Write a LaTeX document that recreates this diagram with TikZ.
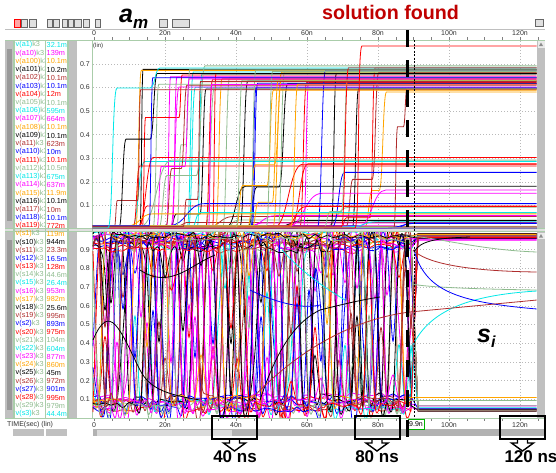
\documentclass[tikz,border=0pt]{standalone}
\usepackage{fontspec}
\setmainfont{Liberation Sans}
\usetikzlibrary{calc}
\definecolor{w0}{RGB}{0,232,232}
\definecolor{w1}{RGB}{255,0,255}
\definecolor{w2}{RGB}{255,165,0}
\definecolor{w3}{RGB}{0,0,0}
\definecolor{w4}{RGB}{175,45,45}
\definecolor{w5}{RGB}{0,0,255}
\definecolor{w6}{RGB}{255,0,0}
\definecolor{w7}{RGB}{143,188,143}
\definecolor{solred}{RGB}{192,0,0}
\definecolor{axgreen}{RGB}{170,205,170}
\definecolor{sbgray}{RGB}{192,192,192}
\definecolor{gridgray}{RGB}{185,185,185}
\tikzset{
  tick/.style={font=\fontsize{7}{8}\selectfont, text=black!80, inner sep=0pt},
  legname/.style={font=\fontsize{7.3}{8}\selectfont, anchor=west, inner sep=0pt},
  legval/.style={font=\fontsize{7.3}{8}\selectfont, anchor=west, inner sep=0pt},
  wave/.style={line width=0.8pt},
  gridline/.style={gridgray, dash pattern=on 1pt off 2pt, line width=0.5pt},
  nsbox/.style={draw=black, line width=2pt, minimum width=45pt, minimum height=23pt, inner sep=0pt},
  nslabel/.style={font=\fontsize{17}{17}\selectfont\bfseries, inner sep=0pt},
  blockarrow/.style={draw=black, fill=white, line width=1.4pt, line join=miter},
  icon/.style={draw=black!60, fill=black!12, line width=0.5pt},
}
\begin{document}
\begin{tikzpicture}[x=1pt,y=-1pt]
\useasboundingbox[fill=white] (0,0) rectangle (556,472);
\pgfmathsetseed{11}
% ---------- toolbar ----------
\foreach \a/\b in {21/27,29/36,47/52,53/59,62/67,68/73,74/81,83/89,95/100,159/167,172/189}
  \draw[icon] (\a,19) rectangle (\b,27);
\draw[icon, draw=red, fill=red!35] (14,19) rectangle (20.5,27);
\draw[icon] (535,19) rectangle (543,26);
\draw[black!25, line width=0.6pt] (5,29) -- (545,29);
% ---------- titles ----------
\node[anchor=base west, inner sep=0pt] (am) at (119,22)
  {\fontsize{25}{25}\selectfont\bfseries\itshape a\raisebox{-6pt}{\fontsize{17}{17}\selectfont m}};
\node[anchor=base west, inner sep=0pt, text=solred, font=\fontsize{19.7}{20}\selectfont\bfseries] (sol) at (322,19) {solution found};
% ---------- top axis ----------
\foreach \t/\l in {0/0,20/20n,40/40n,60/60n,80/80n,100/100n,120/120n}
  \node[tick] (tt\t) at ({94+3.55*\t},33.5) {\l};
\foreach \t in {0,5,...,125}
  \draw[black!50, line width=0.5pt] ({94+3.55*\t},37) -- ({94+3.55*\t},39.5);
\draw[axgreen, line width=1pt] (5,40) -- (545,40);
% ---------- left strips ----------
\foreach \ya/\yb in {40.5/228.5, 232/418}{
  \fill[sbgray] (5,\ya) rectangle (13,\yb);
  \fill[black!40] (6.5,\ya+8) rectangle (11.5,\yb-8);
  \fill[sbgray] (69,\ya) rectangle (77,\yb);
  \fill[sbgray] (537,\ya) rectangle (545,\yb);
  \fill[black!8] (537.5,\ya+0.5) rectangle (544.5,\ya+7);
  \fill[black!45] (539,\ya+5.5) -- (543,\ya+5.5) -- (541,\ya+2) -- cycle;
}
\fill[black!12] (5,228.5) rectangle (545,232);
\draw[axgreen, line width=0.8pt] (5,228.8) -- (545,228.8);
\draw[axgreen, line width=0.8pt] (5,231.8) -- (545,231.8);
\foreach \x in {14,45.5,68}
  \draw[axgreen, line width=1.2pt] (\x,40) -- (\x,418);
% ---------- y labels ----------
\node[tick, anchor=west, font=\fontsize{6}{6}\selectfont] (lin) at (93,46) {(lin)};
\foreach \v in {1,...,7}
  \node[tick, anchor=east] (ty\v) at (90,{229-23.6*\v}) {0.\v};
\foreach \v in {1,...,9}
  \node[tick, anchor=east] (by\v) at (90,{418-18.7*\v}) {0.\v};
% ---------- grid ----------
\foreach \v in {1,...,7}
  \draw[gridline] (93,{229-23.6*\v}) -- (536,{229-23.6*\v});
\foreach \v in {1,...,9}
  \draw[gridline] (93,{418-18.7*\v}) -- (536,{418-18.7*\v});
\foreach \t in {20,40,...,120}{
  \draw[gridline] ({94+3.55*\t},41) -- ({94+3.55*\t},228);
  \draw[gridline] ({94+3.55*\t},233) -- ({94+3.55*\t},417);
}
\draw[axgreen, line width=1pt] (92,40) -- (92,418);
% ---------- top waves ----------
\begin{scope}
\clip (92.5,40.5) rectangle (536.5,228.5);
\foreach \i in {1,...,95}{
  \pgfmathtruncatemacro\c{random(0,7)}
  \pgfmathsetmacro\kind{rnd}
  \pgfmathsetmacro\xT{94+3.55*(12+76*rnd)}
  \pgfmathsetmacro\w{1.5+3*rnd}
  \pgfmathsetmacro\ys{228-2.5*rnd}
  \ifdim\kind pt<0.5pt
    \pgfmathsetmacro\yL{229-236*(0.58+0.12*rnd)}
    \pgfmathsetmacro\yM{ifthenelse(rnd<0.7, \ys, 229-236*(0.04+0.5*rnd))}
    \pgfmathsetmacro\xM{\xT-8-30*rnd}
    \draw[wave,w\c] (92,\ys) -- ({\xM-\w},\ys) .. controls (\xM,\ys) and (\xM,\yM) .. ({\xM+\w},\yM) -- ({\xT-\w},\yM) .. controls (\xT,\yM) and (\xT,\yL) .. ({\xT+\w},\yL) -- (537,\yL);
  \else
    \pgfmathsetmacro\yL{229-236*(0.004+0.3*pow(rnd,4))}
    \pgfmathsetmacro\ww{\w+15*rnd}
    \draw[wave,w\c] (92,\ys) -- ({\xT-\ww},\ys) .. controls (\xT,\ys) and (\xT,\yL) .. ({\xT+\ww},\yL) -- (537,\yL);
  \fi
}
\draw[wave,w6] (92,228) -- (355,228) .. controls (360,228) and (357,46) .. (362,46) -- (537,46);
\draw[wave,w0] (92,228) -- (108,228) .. controls (113,228) and (112,88) .. (117,88) -- (150,88) .. controls (155,88) and (155,68) .. (160,68) -- (537,68);
\end{scope}
% ---------- bottom waves ----------
\begin{scope}
\clip (92.5,232.5) rectangle (536.5,418);
\foreach \i in {1,...,42}{
  \pgfmathtruncatemacro\c{random(0,7)}
  \pgfmathsetmacro\q{0.04+0.18*rnd}
  \pgfmathsetmacro\hi{0.88+0.09*rnd}
  \pgfmathsetmacro\lo{0.03+0.08*rnd}
  \pgfmathtruncatemacro\s{rnd<0.5}
  \xdef\st{\s}
  \xdef\coords{}
  \foreach \k in {0,...,53}{
    \pgfmathtruncatemacro\ns{ifthenelse(rnd<\q, 1-\st, \st)}
    \xdef\st{\ns}
    \pgfmathsetmacro\yy{418-187*ifthenelse(rnd<0.06, 0.15+0.7*rnd, ifthenelse(\ns==1, \hi+0.03*rnd, \lo+0.03*rnd))}
    \pgfmathsetmacro\xx{93+6*\k}
    \xdef\coords{\coords (\xx,\yy)}
  }
  \pgfmathsetmacro\yf{418-187*ifthenelse(rnd<0.55, 0.95+0.04*rnd, 0.025+0.045*rnd)}
  \edef\tmp{\noexpand\draw[wave,w\c] plot[smooth,tension=0.5] coordinates {\coords} -- (418,\yf) -- (537,\yf);}
  \tmp
}
\draw[wave,w3] (93,340) .. controls (110,300) and (120,330) .. (140,370) .. controls (150,390) and (170,395) .. (200,400);
\draw[wave,w3] (140,270) .. controls (170,290) and (190,265) .. (215,255);
\draw[wave,w0] (282,250) .. controls (300,270) and (320,285) .. (345,300);
\draw[wave,w5] (250,290) .. controls (270,300) and (300,310) .. (320,305);
\draw[wave,w3] (260,400) .. controls (280,340) and (300,320) .. (320,310) .. controls (340,305) and (360,300) .. (380,297);
\draw[wave,w7] (410,236) .. controls (440,238) and (480,250) .. (537,252);
\draw[wave,w4] (413,250) .. controls (425,262) and (460,271) .. (537,272);
\draw[wave,w7] (412,284) .. controls (425,287) and (470,289) .. (537,290);
\draw[wave,w0] (410,400) -- (413,345) .. controls (430,310) and (470,295) .. (537,291);
\draw[wave,w5] (414,250) .. controls (425,290) and (455,302) .. (537,309);
\draw[wave,w4] (246,405) .. controls (300,345) and (360,318) .. (410,312) -- (537,300);
\draw[wave,w3] (414,252) .. controls (420,240) and (440,238) .. (470,237);
\draw[wave,w2] (405,397) -- (537,397);
\draw[wave,w7] (405,400) -- (537,400);
\end{scope}
% ---------- bottom axis ----------
\draw[axgreen, line width=1pt] (5,418.5) -- (545,418.5);
\foreach \t in {0,5,...,125}
  \draw[black!50, line width=0.5pt] ({94+3.55*\t},419) -- ({94+3.55*\t},421);
\foreach \t/\l in {0/0,20/20n,40/40n,60/60n,80/80n,100/100n,120/120n}
  \node[tick] (bt\t) at ({94+3.55*\t},425) {\l};
\node[tick, anchor=west] (timelab) at (7,425) {TIME(sec) (lin)};
\fill[sbgray] (13,429) rectangle (44,436);
\fill[sbgray] (46,429) rectangle (67,436);
\fill[black!30] (93,429) rectangle (545,436);
\fill[black!14] (97,429.5) rectangle (232,435.5);
% ---------- legend ----------
\begin{scope}
\clip (14.6,40.5) rectangle (44.8,418);
\foreach \n [count=\k from 0] in {a1,a10,a100,a101,a102,a103,a104,a105,a106,a107,a108,a109,a11,a110,a111,a112,a113,a114,a115,a116,a117,a118,a119}{
  \pgfmathtruncatemacro\cc{mod(\k,8)}
  \node[legname] (tn\k) at (15.5,{45+8.23*\k}) {\textcolor{w\cc}{v(\n)}\textcolor{w7}{ k3}};
}
\foreach \n [count=\k from 0] in {s1,s10,s11,s12,s13,s14,s15,s16,s17,s18,s19,s2,s20,s21,s22,s23,s24,s25,s26,s27,s28,s29,s3}{
  \pgfmathtruncatemacro\cc{mod(\k+2,8)}
  \node[legname] (bn\k) at (15.5,{234+8.18*\k}) {\textcolor{w\cc}{v(\n)}\textcolor{w7}{ k3}};
}
\end{scope}
\foreach \val [count=\k from 0] in {32.1m,139m,10.1m,10.2m,10.1m,10.1m,12m,10.1m,595m,664m,10.1m,10.1m,623m,10m,10.1m,10.5m,675m,637m,11.9m,10.1m,10m,10.1m,772m}{
  \pgfmathtruncatemacro\cc{mod(\k,8)}
  \node[legval, text=w\cc] (tv\k) at (46.5,{45+8.23*\k}) {\val};
}
\foreach \val [count=\k from 0] in {119m,944m,23.3m,16.5m,128m,44.6m,26.4m,953m,982m,25.6m,995m,893m,975m,104m,604m,877m,860m,45m,972m,901m,995m,979m,44.4m}{
  \pgfmathtruncatemacro\cc{mod(\k+2,8)}
  \node[legval, text=w\cc] (bv\k) at (46.5,{234+8.18*\k}) {\val};
}
% ---------- cursor lines ----------
\draw[black, line width=0.7pt, dash pattern=on 2pt off 1.5pt] (414,40) -- (414,418);
\node[draw=green!70!black, line width=0.6pt, fill=white, font=\fontsize{7}{8}\selectfont, inner sep=0.6pt, minimum width=16pt, minimum height=10pt] (cur) at (416,424.5) {9.9n};
\draw[black, line width=3.6pt, dash pattern=on 17pt off 13pt] (407.5,30) -- (407.5,440);
% ---------- s_i ----------
\node[anchor=base west, inner sep=0pt] (si) at (477,342)
  {\fontsize{25}{25}\selectfont\bfseries\itshape s\raisebox{-5pt}{\fontsize{16}{16}\selectfont i}};
% ---------- boxes and arrows ----------
\node[nsbox] (b40) at (234.5,427.5) {};
\node[nsbox] (b80) at (377,427.5) {};
\node[nsbox] (b120) at (522.5,427.5) {};
\node[nslabel] (l40) at (235,457) {40 ns};
\node[nslabel] (l80) at (377,457) {80 ns};
\node[nslabel] (l120) at (531,457) {120 ns};
\foreach \b in {b40,b80,b120}{
  \draw[blockarrow] ($(\b.south)+(-5,0)$) -- ($(\b.south)+(-5,3)$) -- ($(\b.south)+(-11,3)$) -- ($(\b.south)+(0,11)$) -- ($(\b.south)+(11,3)$) -- ($(\b.south)+(5,3)$) -- ($(\b.south)+(5,0)$);
}
\end{tikzpicture}
\end{document}
